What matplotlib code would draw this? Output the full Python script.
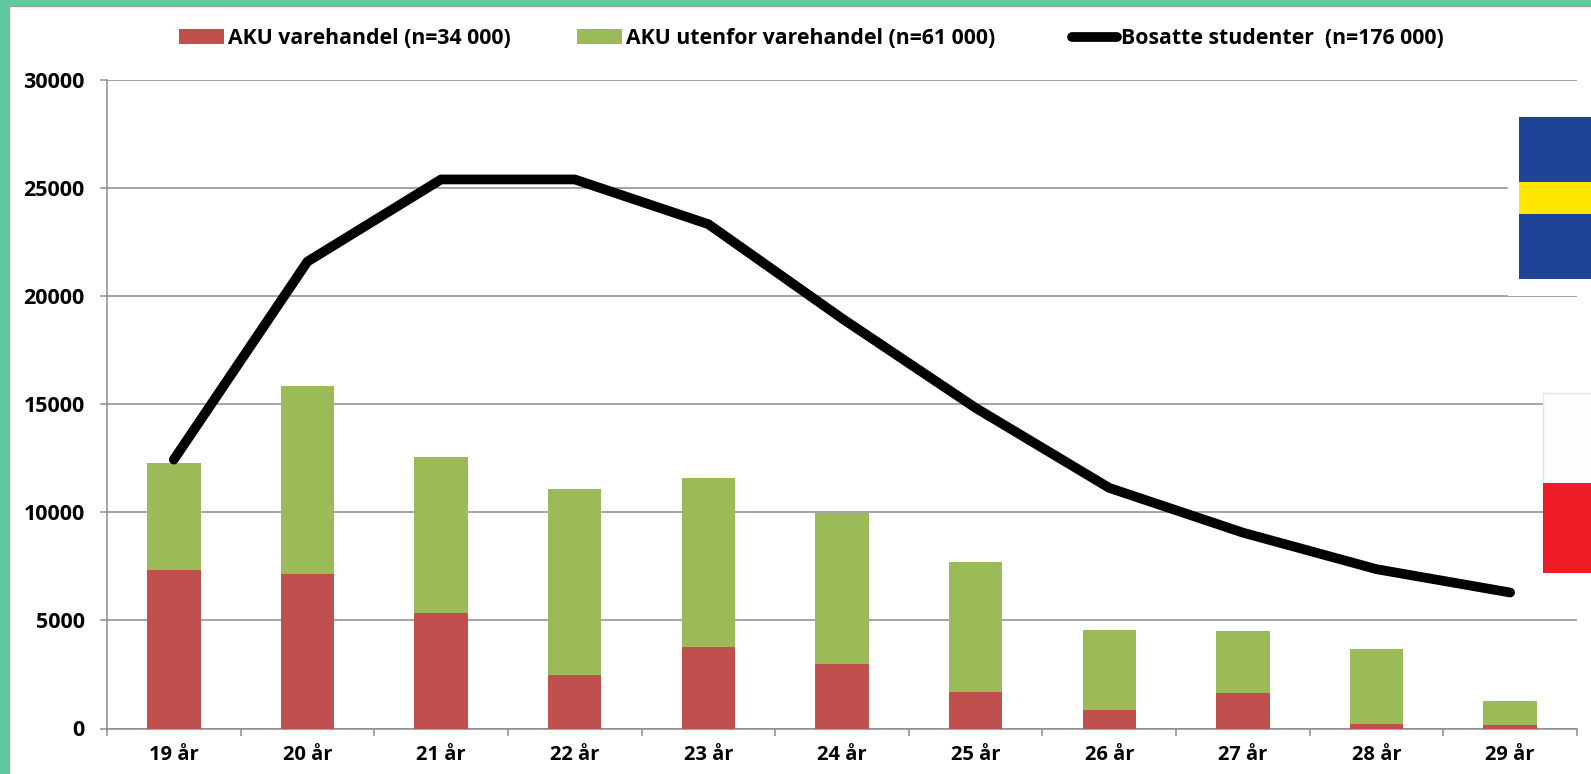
import matplotlib
matplotlib.use('Agg')
import matplotlib.pyplot as plt
from matplotlib.patches import Rectangle
import numpy as np

W, H = 1591, 774

ages = ['19 år', '20 år', '21 år', '22 år', '23 år', '24 år', '25 år', '26 år', '27 år', '28 år', '29 år']
aku_varehandel = [7320, 7140, 5350, 2490, 3750, 3000, 1690, 850, 1640, 200, 150]
aku_utenfor = [4950, 8700, 7200, 8610, 7820, 6970, 6030, 3720, 2880, 3480, 1140]
studenter = [12440, 21600, 25400, 25400, 23330, 18970, 14830, 11130, 9060, 7370, 6290]
yticks = [0, 5000, 10000, 15000, 20000, 25000, 30000]

RED = '#c0504d'
GREEN = '#9bbb59'
GRAY = '#8c8c8c'
BG = '#5fc9a0'

plt.rcParams['font.family'] = ['Open Sans', 'DejaVu Sans']
plt.rcParams['font.weight'] = 'bold'
plt.rcParams['font.size'] = 14.5

fig = plt.figure(figsize=(W / 100, H / 100), dpi=100, facecolor=BG)


def box(x0, y0, x1, y1, color, **kw):
    # pixel box, y measured from the top of the picture
    fig.add_artist(Rectangle((x0 / W, 1 - y1 / H), (x1 - x0) / W, (y1 - y0) / H,
                             transform=fig.transFigure, facecolor=color,
                             edgecolor=kw.pop('edgecolor', 'none'), **kw))


# white slide area inside the green frame
box(9, 6, W + 5, H + 5, 'white', edgecolor='#a0a0a0', linewidth=1, zorder=-5)

ax = fig.add_axes([107 / W, 1 - 728.5 / H, 1470 / W, 648.5 / H])
ax.patch.set_alpha(0)
x = np.arange(len(ages)) + 0.5

bars1 = ax.bar(x, aku_varehandel, width=0.4, color=RED, zorder=3)
bars2 = ax.bar(x, aku_utenfor, width=0.4, bottom=aku_varehandel, color=GREEN, zorder=3)
line, = ax.plot(x, studenter, color='black', linewidth=7, solid_capstyle='round', zorder=4)

ax.set_xlim(0, len(ages))
ax.set_ylim(0, 30000)
ax.set_yticks(yticks)
ax.set_yticklabels([str(v) for v in yticks], fontsize=15.5)
ax.set_xticks(np.arange(len(ages) + 1))
ax.set_xticklabels([])
ax.set_xticks(x, minor=True)
ax.set_xticklabels(ages, minor=True)
ax.tick_params(axis='x', which='major', length=5, color=GRAY, width=1.1)
ax.tick_params(axis='x', which='minor', length=0, pad=12)
ax.tick_params(axis='y', length=5, color=GRAY, width=1.1, pad=11)
ax.grid(axis='y', color=GRAY, linewidth=1.1, zorder=0)
for s in ['top', 'right']:
    ax.spines[s].set_visible(False)
for s in ['left', 'bottom']:
    ax.spines[s].set_color(GRAY)
    ax.spines[s].set_linewidth(1.1)

# gaps between the legend entries are uneven, so one legend per entry
for handle, label, left in [(bars1, 'AKU varehandel (n=34 000)', 179),
                            (bars2, 'AKU utenfor varehandel (n=61 000)', 577),
                            (line, 'Bosatte studenter  (n=176 000)', 1072)]:
    fig.legend([handle], [label], loc='center left', bbox_to_anchor=(left / W, 1 - 38.5 / H),
               frameon=False, handlelength=2.1, handletextpad=0.2, borderpad=0, borderaxespad=0,
               fontsize=15.3)

# flags pasted on the right side of the slide
box(1508, 103, W + 5, 296, 'white', zorder=5)
box(1519, 117, W + 5, 279, '#1f4396', zorder=6)
box(1519, 182, W + 5, 214, '#ffe600', zorder=7)
box(1543, 393, W + 5, 483, '#fdfdfd', edgecolor='#e4e4e4', linewidth=1, zorder=6)
box(1543, 483, W + 5, 573, '#ee1c25', zorder=6)

fig.savefig('out.png', dpi=100, facecolor=fig.get_facecolor())
